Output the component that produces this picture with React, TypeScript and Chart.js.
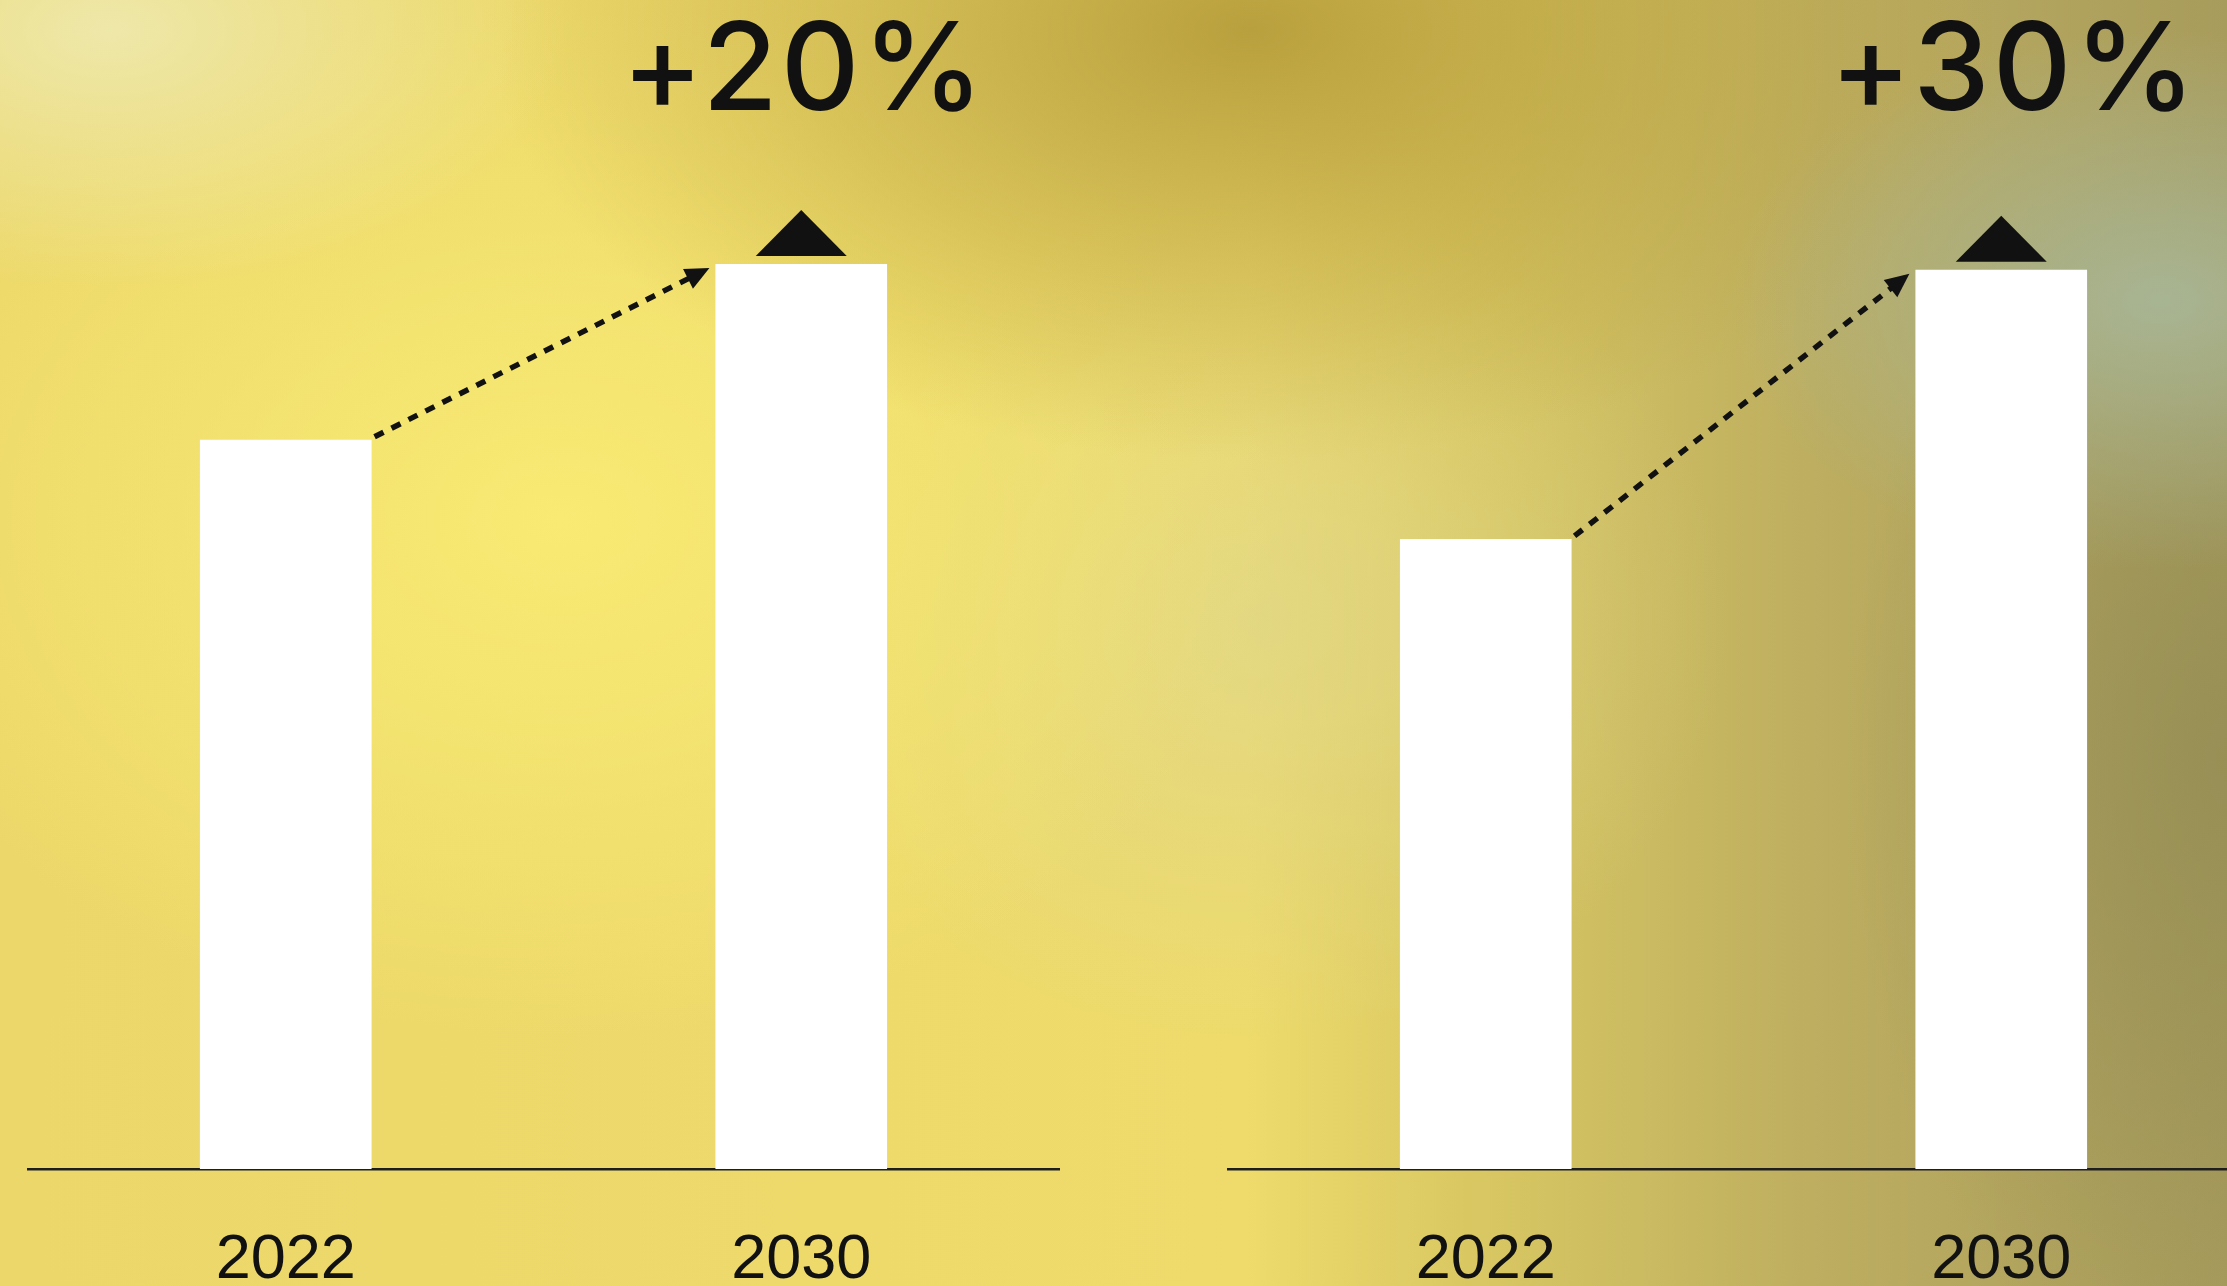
import React, { useEffect, useRef } from 'react';
import { Chart, registerables } from 'chart.js';

Chart.register(...registerables);

// ---- data ----
const categories = ['2022', '2030'];
const marketAValues = [100, 124.1];
const marketBValues = [86.4, 123.3];
const growthLabels = ['+20%', '+30%'];
const yMax = 130;

const growthPlugin = {
  id: 'growth',
  afterDatasetsDraw(chart: any, _args: any, opts: any) {
    const meta = chart.getDatasetMeta(0);
    const b0: any = meta.data[0];
    const b1: any = meta.data[1];
    if (!b0 || !b1) return;
    const ctx: any = chart.ctx;
    const sx = b0.x + b0.width / 2 + 3;
    const sy = b0.y - 3;
    const ex = b1.x - b1.width / 2 - 6;
    const ey = b1.y + 4;
    const ang = Math.atan2(ey - sy, ex - sx);
    const headLen = 24;
    const headHalf = 11;
    ctx.save();
    ctx.strokeStyle = '#111';
    ctx.fillStyle = '#111';
    ctx.lineWidth = 5.5;
    ctx.setLineDash([10, 9]);
    ctx.beginPath();
    ctx.moveTo(sx, sy);
    ctx.lineTo(ex - Math.cos(ang) * headLen * 0.8, ey - Math.sin(ang) * headLen * 0.8);
    ctx.stroke();
    ctx.setLineDash([]);
    ctx.beginPath();
    ctx.moveTo(ex, ey);
    ctx.lineTo(ex - headLen * Math.cos(ang) + headHalf * Math.sin(ang), ey - headLen * Math.sin(ang) - headHalf * Math.cos(ang));
    ctx.lineTo(ex - headLen * Math.cos(ang) - headHalf * Math.sin(ang), ey - headLen * Math.sin(ang) + headHalf * Math.cos(ang));
    ctx.closePath();
    ctx.fill();
    // triangle marker above the 2030 bar
    const tb = b1.y - 8;
    const th = 46;
    const tw = 91;
    ctx.beginPath();
    ctx.moveTo(b1.x - tw / 2, tb);
    ctx.lineTo(b1.x + tw / 2, tb);
    ctx.lineTo(b1.x, tb - th);
    ctx.closePath();
    ctx.fill();
    // growth label
    ctx.font = "500 122px Inter, 'Noto Sans', sans-serif";
    try { ctx.letterSpacing = '3px'; } catch (e) {}
    ctx.textAlign = 'center';
    ctx.textBaseline = 'alphabetic';
    ctx.fillText(opts.label, b1.x + (opts.dx || 0), 110);
    ctx.restore();
  },
};

function BarPanel({ values, label, dx, left }: { values: number[]; label: string; dx: number; left: number }) {
  const ref = useRef<HTMLCanvasElement>(null);
  useEffect(() => {
    if (!ref.current) return;
    const chart = new Chart(ref.current, {
      type: 'bar',
      data: {
        labels: categories,
        datasets: [
          {
            data: values,
            backgroundColor: '#ffffff',
            borderWidth: 0,
            barPercentage: 0.333,
            categoryPercentage: 1,
          },
        ],
      },
      options: {
        responsive: false,
        animation: false,
        layout: { padding: { left: 28, right: 51, top: 221, bottom: 0 } },
        plugins: {
          legend: { display: false },
          tooltip: { enabled: false },
          title: { display: false },
          growth: { label, dx },
        } as any,
        scales: {
          x: {
            grid: { display: false, drawTicks: false },
            border: { display: true, color: '#1e1e1e', width: 2.5 },
            ticks: {
              color: '#111',
              font: { family: "'Liberation Sans', Arial, sans-serif", size: 63 },
              padding: 54,
              maxRotation: 0,
            },
            afterFit: (s: any) => {
              s.height = 117;
            },
          },
          y: { display: false, min: 0, max: yMax },
        },
      },
      plugins: [growthPlugin as any],
    });
    return () => chart.destroy();
  }, [values, label, dx]);
  return (
    <canvas
      ref={ref}
      width={1110}
      height={1286}
      style={{ position: 'absolute', left, top: 0, width: 1110, height: 1286 }}
    />
  );
}

const bg = [
  'radial-gradient(ellipse 430px 270px at 2160px 300px, rgba(168,182,150,0.95), rgba(168,182,150,0))',
  'radial-gradient(ellipse 380px 650px at 2227px 760px, rgba(150,142,85,0.9), rgba(150,142,85,0))',
  'radial-gradient(ellipse 760px 430px at 1250px 30px, rgba(185,160,62,1), rgba(185,160,62,0))',
  'radial-gradient(ellipse 460px 260px at 110px 30px, rgba(238,232,172,0.95), rgba(238,232,172,0))',
  'radial-gradient(ellipse 720px 520px at 560px 520px, rgba(248,234,115,1), rgba(248,234,115,0))',
  'radial-gradient(ellipse 480px 420px at 1250px 620px, rgba(222,214,140,0.7), rgba(222,214,140,0))',
  'linear-gradient(90deg, #ecd86a 0%, #eedb6c 56%, #d9c862 66%, #bcad60 82%, #a89c5c 100%)',
].join(', ');

export default function App() {
  return (
    <div
      style={{
        position: 'fixed',
        left: 0,
        top: 0,
        width: 2227,
        height: 1286,
        overflow: 'hidden',
        background: bg,
      }}
    >
      <BarPanel values={marketAValues} label={growthLabels[0]} dx={3} left={0} />
      <BarPanel values={marketBValues} label={growthLabels[1]} dx={13} left={1200} />
    </div>
  );
}
